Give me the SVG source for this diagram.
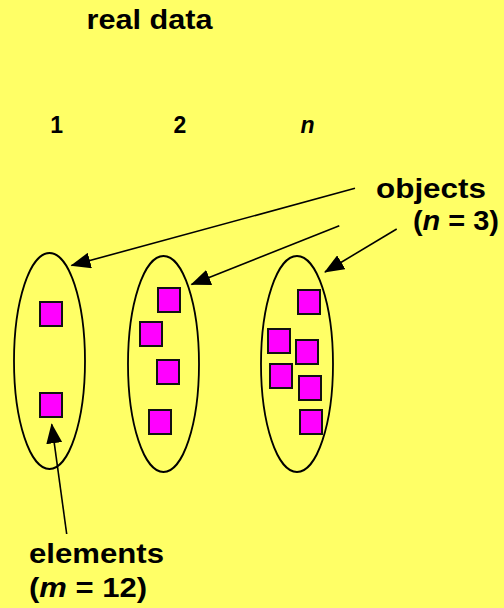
<svg xmlns="http://www.w3.org/2000/svg" width="504" height="608" viewBox="0 0 504 608">
<style>
text{font-family:"Liberation Sans",Arial,sans-serif;font-weight:bold;fill:#000}
.obj{fill:none;stroke:#000;stroke-width:1.8}
.el{fill:#FF00FF;stroke:#111;stroke-width:2}
.con{stroke:#000;stroke-width:1.6;fill:none;marker-end:url(#ah)}
</style>
<defs>
<marker id="ah" markerUnits="userSpaceOnUse" markerWidth="20" markerHeight="16" refX="19" refY="8" orient="auto">
<path d="M0,0 L20,8 L0,16 z" fill="#000"/>
</marker>
</defs>
<rect width="504" height="608" fill="#FFFF66"/>
<text x="86.5" y="29" font-size="27" textLength="126" lengthAdjust="spacingAndGlyphs">real data</text>
<text x="56.7" y="132.7" font-size="23" text-anchor="middle">1</text>
<text x="180" y="132.7" font-size="23" text-anchor="middle">2</text>
<text x="307.5" y="132.7" font-size="23" text-anchor="middle" font-style="italic">n</text>
<g id="object1">
<ellipse class="obj" cx="49.5" cy="361" rx="35.5" ry="108"/>
<rect class="el" x="40" y="302" width="22" height="24"/>
<rect class="el" x="40" y="393" width="22" height="24"/>
</g>
<g id="object2">
<ellipse class="obj" cx="163.5" cy="364" rx="35.5" ry="108"/>
<rect class="el" x="158" y="288" width="22" height="24"/>
<rect class="el" x="140" y="322" width="22" height="24"/>
<rect class="el" x="157" y="360" width="22" height="24"/>
<rect class="el" x="149" y="410" width="22" height="24"/>
</g>
<g id="object3">
<ellipse class="obj" cx="297" cy="364" rx="36" ry="108"/>
<rect class="el" x="298" y="290" width="22" height="24"/>
<rect class="el" x="268" y="329" width="22" height="24"/>
<rect class="el" x="296" y="340" width="22" height="24"/>
<rect class="el" x="270" y="364" width="22" height="24"/>
<rect class="el" x="299" y="376" width="22" height="24"/>
<rect class="el" x="300" y="410" width="22" height="24"/>
</g>
<g id="label-objects">
<text x="376" y="197.5" font-size="28" textLength="110" lengthAdjust="spacingAndGlyphs">objects</text>
<text x="413" y="230" font-size="28" textLength="86" lengthAdjust="spacingAndGlyphs">(<tspan font-style="italic">n</tspan> = 3)</text>
</g>
<g id="label-elements">
<text x="29" y="563" font-size="28" textLength="135" lengthAdjust="spacingAndGlyphs">elements</text>
<text x="29" y="597" font-size="28" textLength="118" lengthAdjust="spacingAndGlyphs">(<tspan font-style="italic">m</tspan> = 12)</text>
</g>
<g id="connectors">
<line class="con" x1="355" y1="188.3" x2="71.5" y2="265.5"/>
<line class="con" x1="339.3" y1="225.7" x2="191.5" y2="284.5"/>
<line class="con" x1="396.7" y1="229" x2="325" y2="272"/>
<line class="con" x1="66.7" y1="534" x2="51.7" y2="424.3"/>
</g>
</svg>
